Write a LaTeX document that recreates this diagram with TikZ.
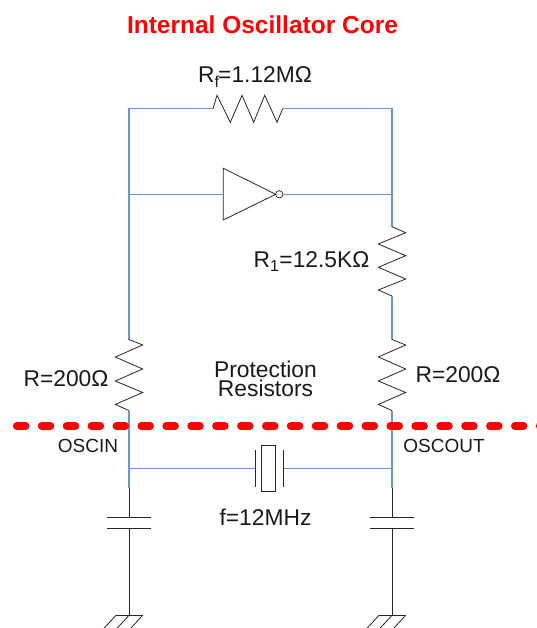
\documentclass[tikz,border=0pt]{standalone}
\usepackage{fontspec}
\setmainfont{Liberation Sans}
\definecolor{wireblue}{HTML}{6A96D8}
\tikzset{
  wire/.style={draw=wireblue,line width=1.1pt},
  part/.style={draw=black!85,line width=.8pt},
  lbl/.style={inner sep=0pt,font=\fontsize{22.8}{18.5}\selectfont,text=black!90,align=center},
  small/.style={inner sep=0pt,font=\fontsize{19}{19}\selectfont,text=black!90}
}
\begin{document}
\begin{tikzpicture}[x=1pt,y=-1pt]
  \useasboundingbox (0,0) rectangle (536,628);
  % corners and junctions
  \coordinate (tl) at (129,108.7);
  \coordinate (tr) at (392,108.7);
  \coordinate (ml) at (129,194.3);
  \coordinate (mr) at (392,194.3);
  \coordinate (rfa) at (213,108.7);
  \coordinate (rfb) at (282.7,108.7);
  \coordinate (r1a) at (392,226.7);
  \coordinate (r1b) at (392,296);
  \coordinate (ina) at (129,339.5);
  \coordinate (inb) at (129,410.6);
  \coordinate (outa) at (392,339.5);
  \coordinate (outb) at (392,410.6);
  \coordinate (xl) at (129,468.6);
  \coordinate (xr) at (392,468.6);
  \coordinate (pl) at (255,468.6);
  \coordinate (pr) at (283.3,468.6);
  \coordinate (wl) at (129,488);
  \coordinate (wr) at (392,488);
  \coordinate (c1a) at (129,517);
  \coordinate (c1b) at (129,528);
  \coordinate (c2a) at (392,517);
  \coordinate (c2b) at (392,528);
  \coordinate (g1) at (129,615.3);
  \coordinate (g2) at (392,615.3);
  \coordinate (inva) at (223.3,194.3);
  \coordinate (dl) at (13,426);
  \coordinate (dr) at (541,426);
  % inverter
  \node(bub)[circle,draw=black!85,line width=.7pt,inner sep=0pt,minimum size=7.4pt] at (279.3,194.3){};
  \draw[part] (223.3,168.3) -- (223.3,220) -- (275.7,194.3) -- cycle;
  % crystal
  \node(xtal)[draw=black!85,line width=.8pt,inner sep=0pt,minimum width=14.2pt,minimum height=46.4pt] at (268.6,468.5){};
  % wires
  \draw[wire] (ina) -- (tl) -- (rfa);
  \draw[wire] (rfb) -- (tr) -- (r1a);
  \draw[wire] (ml) -- (inva);
  \draw[wire] (bub) -- (mr);
  \draw[wire] (r1b) -- (outa);
  \draw[wire] (inb) -- (wl);
  \draw[wire] (outb) -- (wr);
  \draw[wire] (xl) -- (pl);
  \draw[wire] (pr) -- (xr);
  % resistors
  \draw[part] (rfa) -- ++(4,-13.4) -- ++(13.3,27) -- ++(11.7,-27) -- ++(11.7,27) -- ++(11,-27) -- ++(12.3,27) -- (rfb);
  \draw[part] (r1a) -- ++(13.7,6) -- ++(-27.4,11.3) -- ++(27.4,11.7) -- ++(-27.4,11.6) -- ++(27.4,11.7) -- ++(-27.4,11) -- (r1b);
  \draw[part] (ina) -- ++(13.7,5.5) -- ++(-27.4,12) -- ++(27.4,12) -- ++(-27.4,12) -- ++(27.4,11.5) -- ++(-27.4,11.9) -- (inb);
  \draw[part] (outa) -- ++(13.7,5.5) -- ++(-27.4,12) -- ++(27.4,12) -- ++(-27.4,12) -- ++(27.4,11.5) -- ++(-27.4,11.9) -- (outb);
  % crystal plates
  \draw[part] (255,450) -- (255,487.3);
  \draw[part] (283.3,450) -- (283.3,487.3);
  % capacitors and ground
  \draw[part] (wl) -- (c1a);
  \draw[part] (107,517) -- (151,517);
  \draw[part] (107,528) -- (151,528);
  \draw[part] (c1b) -- (g1);
  \draw[part] (wr) -- (c2a);
  \draw[part] (370,517) -- (414,517);
  \draw[part] (370,528) -- (414,528);
  \draw[part] (c2b) -- (g2);
  \draw[part] (116,615.3) -- (142.7,615.3);
  \draw[part] (379,615.3) -- (405.7,615.3);
  \foreach \gx in {116,129,142.7}{
    \draw[part] (\gx,615.3) -- ++(-12,13);
    \draw[part] (\gx+263,615.3) -- ++(-12,13);
  }
  % labels
  \node(title)[inner sep=0pt,font=\fontsize{24.5}{25}\selectfont\bfseries,text=red] at (262.5,25){Internal Oscillator Core};
  \node(lrf)[lbl] at (255,77){R\textsubscript{f}\kern-1.2pt=1.12MΩ};
  \node(lr1)[lbl] at (311.5,261.5){R\textsubscript{1}=12.5KΩ};
  \node(lin)[lbl] at (66,379){R=200Ω};
  \node(lout)[lbl] at (458,375){R=200Ω};
  \node(prot)[lbl] at (265.5,379){Protection\\Resistors};
  \node(oin)[small] at (88,445.5){OSCIN};
  \node(oout)[small] at (444,445.5){OSCOUT};
  \node(freq)[lbl] at (265.5,517.5){f=12MHz};
  % package edge
  \draw[red,line width=7.5pt,line cap=round,dash pattern=on 9pt off 15.9pt] (dl) ++(3.7,0) -- (dr);
\end{tikzpicture}
\end{document}
